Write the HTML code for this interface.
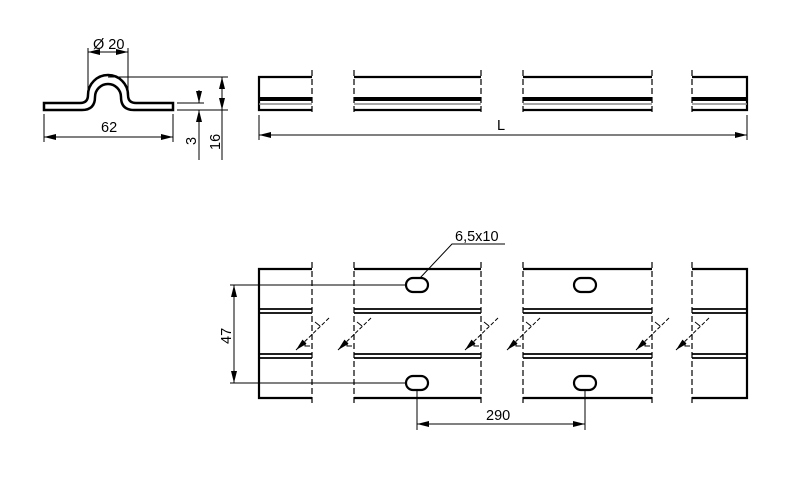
<!DOCTYPE html>
<html><head><style>body{margin:0;background:#fff}svg{display:block}text{font-family:"Liberation Sans",sans-serif;font-size:14.5px;fill:#000}</style></head><body>
<svg width="800" height="500" viewBox="0 0 800 500" xmlns="http://www.w3.org/2000/svg">
<defs><marker id="a" viewBox="0 0 12 6" refX="12" refY="3" markerWidth="12" markerHeight="6" markerUnits="userSpaceOnUse" orient="auto-start-reverse"><path d="M0,0L12,3L0,6z" fill="#000"/></marker></defs>
<g fill="none" stroke="#000">
<!-- profile -->
<path d="M44,103 H80 Q88,103 88,95 A20,20 0 0 1 128,95 Q128,103 136,103 H173 V110 H134 Q121,110 121,97 A13,13 0 0 0 95,97 Q95,110 82,110 H44 Z" stroke-width="2.5"/>
<path d="M88,92 V48 M128,92 V48" stroke-width="1"/>
<line x1="88" y1="52" x2="128" y2="52" stroke-width="1" marker-start="url(#a)" marker-end="url(#a)"/>
<path d="M44,114 V142 M173,114 V142" stroke-width="1"/>
<line x1="44" y1="137" x2="173" y2="137" stroke-width="1" marker-start="url(#a)" marker-end="url(#a)"/>
<path d="M108,77 H228 M177,103 H204 M177,110 H228" stroke-width="1"/>
<line x1="199" y1="90" x2="199" y2="103" stroke-width="1" marker-end="url(#a)"/>
<line x1="199" y1="125" x2="199" y2="110" stroke-width="1" marker-end="url(#a)"/>
<line x1="199" y1="125" x2="199" y2="160" stroke-width="1"/>
<line x1="222" y1="110" x2="222" y2="77" stroke-width="1" marker-start="url(#a)" marker-end="url(#a)"/>
<line x1="222" y1="110" x2="222" y2="160" stroke-width="1"/>
<!-- top view -->
<g stroke-width="2.2">
<path d="M312,77 H259 V110 H312 M354,77 H481 M354,110 H481 M523,77 H652 M523,110 H652 M692,77 H747 V110 H692"/>
<path d="M259,99 H312 M354,99 H481 M523,99 H652 M692,99 H747" stroke-width="4"/>
</g>
<path d="M259,104 H312 M354,104 H481 M523,104 H652 M692,104 H747" stroke="#888" stroke-width="1.5"/>
<path d="M312,70 V115 M354,70 V115 M481,70 V115 M523,70 V115 M652,70 V115 M692,70 V115" stroke-width="1.2" stroke-dasharray="6,3"/>
<path d="M259,115 V140 M747,115 V140" stroke-width="1"/>
<line x1="259" y1="135" x2="747" y2="135" stroke-width="1" marker-start="url(#a)" marker-end="url(#a)"/>
<!-- bottom view -->
<g stroke-width="2.2">
<path d="M312,269 H259 V398 H312 M354,269 H481 M354,398 H481 M523,269 H652 M523,398 H652 M692,269 H747 V398 H692"/>
<path d="M259,309 H312 M354,309 H481 M523,309 H652 M692,309 H747 M259,313 H312 M354,313 H481 M523,313 H652 M692,313 H747 M259,354 H312 M354,354 H481 M523,354 H652 M692,354 H747 M259,358 H312 M354,358 H481 M523,358 H652 M692,358 H747" stroke-width="1.8"/>
<rect x="406" y="278" width="22" height="14" rx="7"/>
<rect x="406" y="376" width="22" height="14" rx="7"/>
<rect x="574" y="278" width="22" height="14" rx="7"/>
<rect x="574" y="376" width="22" height="14" rx="7"/>
</g>
<path d="M312,262 V405 M354,262 V405 M481,262 V405 M523,262 V405 M652,262 V405 M692,262 V405" stroke-width="1.2" stroke-dasharray="6,3"/>
<g stroke-width="1" stroke-dasharray="4,2">
<line x1="329" y1="318" x2="296" y2="350" marker-end="url(#a)"/><line x1="371" y1="318" x2="338" y2="350" marker-end="url(#a)"/>
<line x1="498" y1="318" x2="465" y2="350" marker-end="url(#a)"/><line x1="540" y1="318" x2="507" y2="350" marker-end="url(#a)"/>
<line x1="669" y1="318" x2="636" y2="350" marker-end="url(#a)"/><line x1="709" y1="318" x2="676" y2="350" marker-end="url(#a)"/>
</g>
<g stroke-width="1">
<path d="M315,322 l5,4 M357,322 l5,4 M484,322 l5,4 M526,322 l5,4 M655,322 l5,4 M695,322 l5,4 M310,346 l-5,0 v-4 M352,346 l-5,0 v-4 M479,346 l-5,0 v-4 M521,346 l-5,0 v-4 M650,346 l-5,0 v-4 M690,346 l-5,0 v-4"/>
</g>
<path d="M230,285 H406 M230,383 H406" stroke-width="1"/>
<line x1="234" y1="285" x2="234" y2="383" stroke-width="1" marker-start="url(#a)" marker-end="url(#a)"/>
<path d="M417,390 V430 M585,390 V430" stroke-width="1"/>
<line x1="417" y1="424" x2="585" y2="424" stroke-width="1" marker-start="url(#a)" marker-end="url(#a)"/>
<path d="M505,244 H452 L420,278" stroke-width="1"/>
</g>
<text x="93" y="49">Ø 20</text>
<text x="101" y="132">62</text>
<text x="497" y="130">L</text>
<text x="455" y="241">6,5x10</text>
<text x="486" y="420">290</text>
<text transform="translate(196,145) rotate(-90)">3</text>
<text transform="translate(220,150) rotate(-90)">16</text>
<text transform="translate(231,344) rotate(-90)">47</text>
</svg>
</body></html>
